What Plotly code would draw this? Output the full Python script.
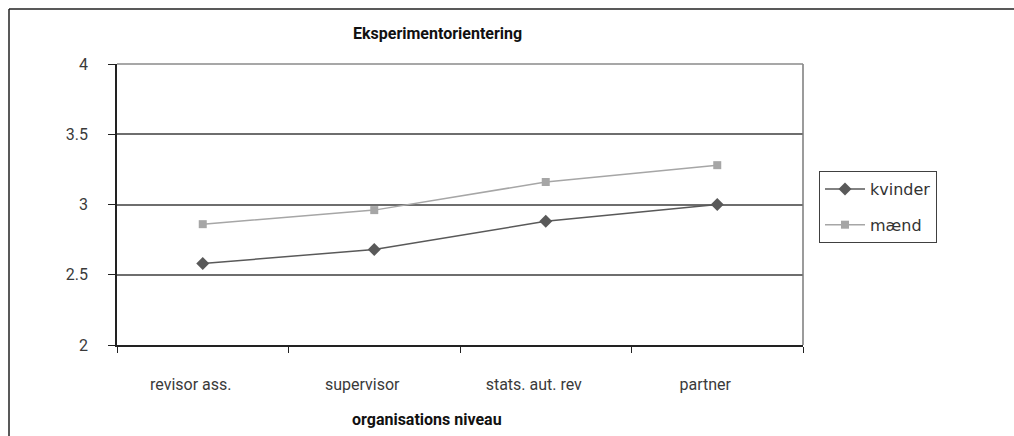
import plotly.graph_objects as go

categories = ["revisor ass.", "supervisor", "stats. aut. rev", "partner"]
kvinder = [2.58, 2.68, 2.88, 3.00]
maend = [2.86, 2.96, 3.16, 3.28]
y_ticks = [2, 2.5, 3, 3.5, 4]
y_ticklabels = ["2", "2.5", "3", "3.5", "4"]

W, H = 1014, 436
L, R, T, B = 117, 803, 64, 345

def px(x):
    return (x - L) / (R - L)

def py(y):
    return (B - y) / (B - T)

fig = go.Figure()
fig.add_trace(go.Scatter(
    x=categories, y=kvinder, name="kvinder", mode="lines+markers",
    line=dict(color="#595959", width=1.5),
    marker=dict(symbol="diamond", size=10, color="#595959"),
    legendgroup="a",
))
fig.add_trace(go.Scatter(
    x=categories, y=maend, name="mænd", mode="lines+markers",
    line=dict(color="#A6A6A6", width=1.5),
    marker=dict(symbol="square", size=8, color="#A6A6A6"),
    legendgroup="b",
))

fig.update_layout(
    width=W, height=H,
    margin=dict(l=L, r=W - R, t=T, b=H - B),
    paper_bgcolor="white", plot_bgcolor="white",
    font=dict(family="Roboto, DejaVu Sans, sans-serif", size=15, color="#333333"),
    showlegend=True,
    legend=dict(
        x=px(819), y=py(171), xanchor="left", yanchor="top",
        bordercolor="#404040", borderwidth=1, bgcolor="white",
        font=dict(family="DejaVu Sans", size=16, color="#333333"),
        traceorder="grouped", tracegroupgap=12, itemwidth=40,
    ),
    xaxis=dict(
        type="category", range=[-0.5, 3.5],
        showgrid=False, showline=True, linecolor="#222222", linewidth=1.5,
        ticks="outside", tickson="boundaries", ticklen=6, tickcolor="#222222",
        ticklabelstandoff=24, ticklabelshift=-12,
        tickfont=dict(family="Roboto", size=16, color="#3a3a3a"),
        mirror=False, zeroline=False,
    ),
    yaxis=dict(
        range=[2, 4], tickvals=y_ticks, ticktext=y_ticklabels,
        showgrid=True, gridcolor="#6e6e6e", gridwidth=1.5,
        showline=True, linecolor="#222222", linewidth=1.5,
        ticks="outside", ticklen=7, tickcolor="#222222",
        ticklabelstandoff=17,
        tickfont=dict(family="Roboto", size=16, color="#3a3a3a"),
        zeroline=False,
    ),
    shapes=[
        dict(type="line", xref="paper", yref="paper", x0=1, x1=1, y0=0, y1=1,
             line=dict(color="#7a7a7a", width=1.5)),
        dict(type="line", xref="paper", yref="paper", x0=0, x1=1, y0=1, y1=1,
             line=dict(color="#8a8a8a", width=1.5)),
        dict(type="line", xref="paper", yref="paper", x0=px(9), x1=px(1016), y0=py(9), y1=py(9),
             line=dict(color="#222222", width=1.5)),
        dict(type="line", xref="paper", yref="paper", x0=px(9), x1=px(9), y0=py(9), y1=py(440),
             line=dict(color="#222222", width=1.5)),
    ],
    annotations=[
        dict(text="<b>Eksperimentorientering</b>", xref="paper", yref="paper",
             x=px(437), y=py(34), xanchor="center", yanchor="middle", showarrow=False,
             font=dict(family="Roboto", size=16, color="#111111")),
        dict(text="<b>organisations niveau</b>", xref="paper", yref="paper",
             x=px(427), y=py(419), xanchor="center", yanchor="middle", showarrow=False,
             font=dict(family="Roboto", size=16, color="#111111")),
    ],
)

fig.write_html("out.html")
